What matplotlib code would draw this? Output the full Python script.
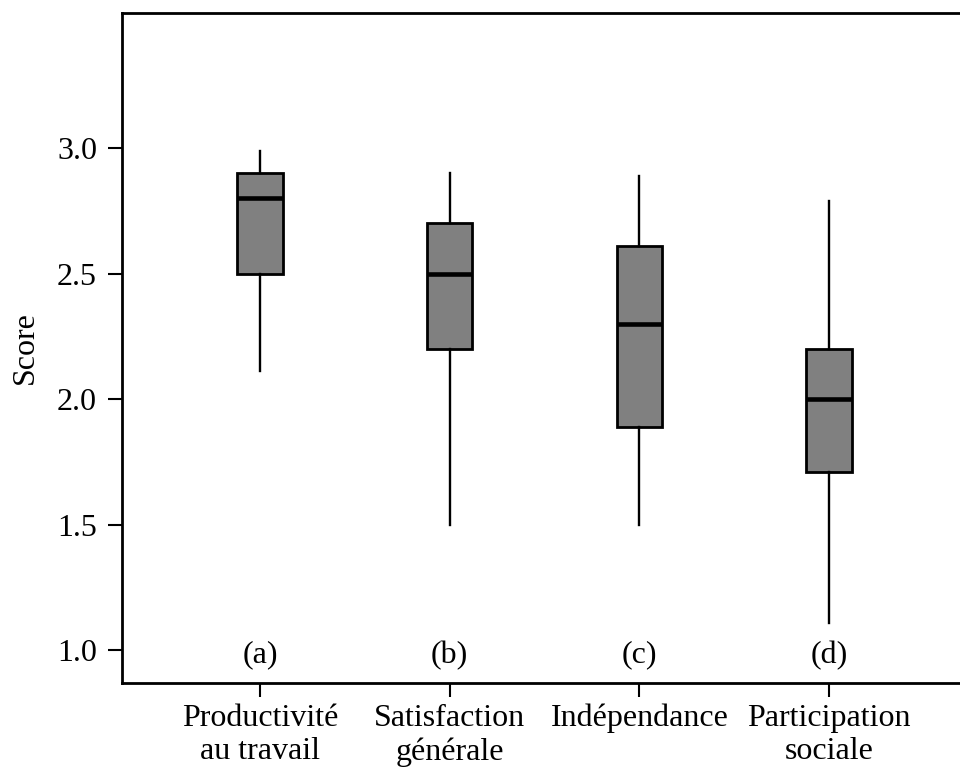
import matplotlib.pyplot as plt

plt.rcParams['font.family'] = ['Liberation Serif', 'DejaVu Serif']

categories = ['Productivité\nau travail', 'Satisfaction\ngénérale', 'Indépendance', 'Participation\nsociale']
letters = ['(a)', '(b)', '(c)', '(d)']
whislo = [2.11, 1.50, 1.50, 1.11]
q1 = [2.50, 2.20, 1.89, 1.71]
med = [2.80, 2.50, 2.30, 2.00]
q3 = [2.90, 2.70, 2.61, 2.20]
whishi = [2.99, 2.90, 2.89, 2.79]

stats = []
for i in range(len(categories)):
    stats.append({'whislo': whislo[i], 'q1': q1[i], 'med': med[i],
                  'q3': q3[i], 'whishi': whishi[i], 'fliers': []})

fig = plt.figure(figsize=(9.6, 7.67), dpi=100)
ax = fig.add_axes([122/960, (767-683)/767, (967-122)/960, (683-13)/767])

pos = list(range(1, len(categories) + 1))
ax.bxp(stats, positions=pos, widths=0.24, showcaps=False, showfliers=False,
       patch_artist=True,
       boxprops=dict(facecolor='#808080', edgecolor='black', linewidth=2),
       medianprops=dict(color='black', linewidth=3.3),
       whiskerprops=dict(color='black', linewidth=1.7))

for p, l in zip(pos, letters):
    ax.text(p, 0.98, l, ha='center', va='center', fontsize=23)

ax.set_xlim(0.273, 4.727)
ax.set_ylim(0.869, 3.538)
ax.set_xticks(pos)
ax.set_xticklabels(categories, fontsize=23, linespacing=1.2)
ax.set_yticks([1.0, 1.5, 2.0, 2.5, 3.0])
ax.set_yticklabels(['1.0', '1.5', '2.0', '2.5', '3.0'], fontsize=23)
ax.set_ylabel('Score', fontsize=23, labelpad=12)
ax.tick_params(direction='out', length=10, width=1.5)
ax.tick_params(axis='y', pad=8)
ax.tick_params(axis='x', pad=5)
for s in ax.spines.values():
    s.set_linewidth(2)

fig.savefig('out.png', dpi=100)
